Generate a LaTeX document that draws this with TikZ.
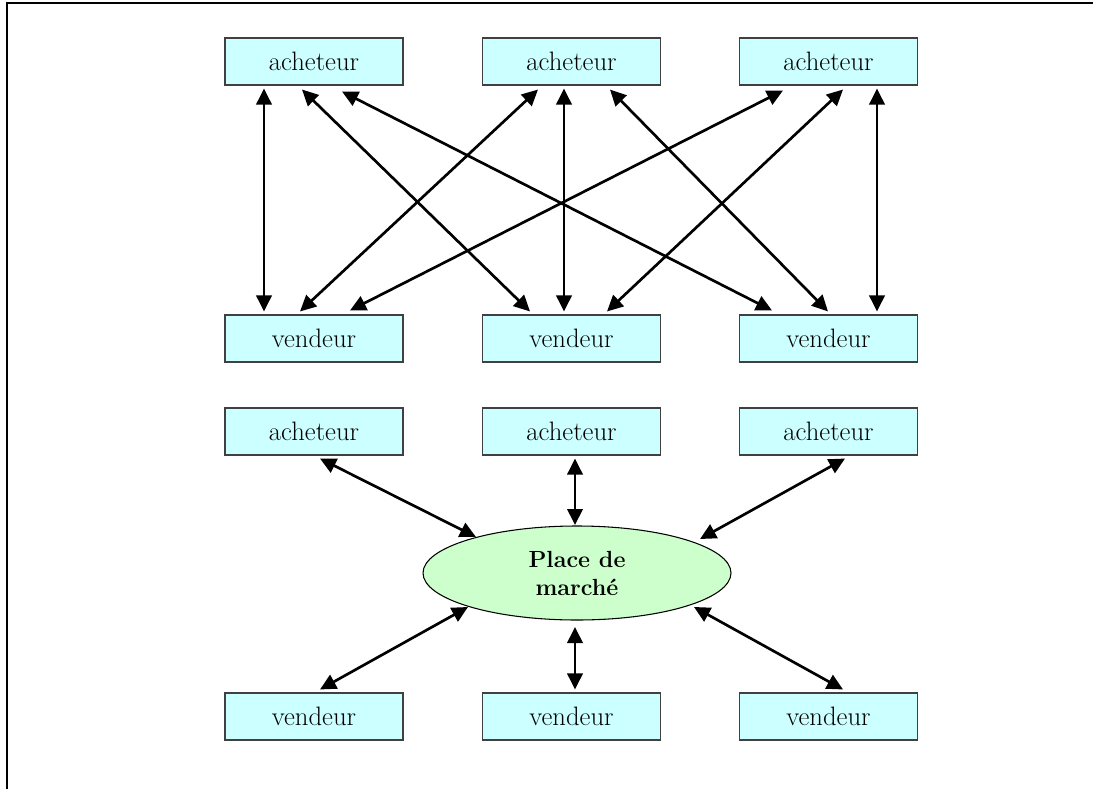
\documentclass[tikz,border=0pt]{standalone}
\usetikzlibrary{arrows.meta,calc,shapes.geometric}
\definecolor{boxfill}{HTML}{CCFFFF}
\definecolor{ellfill}{HTML}{CCFFCC}
\definecolor{boxline}{HTML}{404040}
\begin{document}
\begin{tikzpicture}[x=0.75pt,y=-0.75pt,
  agent/.style={draw=boxline, line width=0.8pt, fill=boxfill, minimum width=133.5pt, minimum height=35.25pt, inner sep=0pt, font=\fontsize{20}{22}\selectfont},
  market/.style={ellipse, draw=black, line width=0.8pt, fill=ellfill, minimum width=231pt, minimum height=70.5pt, inner sep=0pt, align=center, font=\fontsize{17.5}{21}\selectfont\bfseries},
  link/.style={line width=2pt, {Triangle[length=12pt,width=11.5pt]}-{Triangle[length=12pt,width=11.5pt]}},
  frame/.style={line width=1.6pt}]
\useasboundingbox (0,0) rectangle (1093,789);
\draw[frame] (7,789) -- (7,3) -- (1093,3);

% top section
\node[agent] (a1) at (314,61.5) {acheteur};
\node[agent] (a2) at (571.5,61.5) {acheteur};
\node[agent] (a3) at (828.5,61.5) {acheteur};
\node[agent] (v1) at (314,338.5) {vendeur};
\node[agent] (v2) at (571.5,338.5) {vendeur};
\node[agent] (v3) at (828.5,338.5) {vendeur};

\draw[link] ($(a1.south)+(-50,3)$) -- ($(v1.north)+(-50,-3)$);
\draw[link] ($(a1.south)+(-12,4)$) -- ($(v2.north)+(-41.5,-3)$);
\draw[link] ($(a1.south)+(28,6)$) -- ($(v3.north)+(-56.5,-4)$);
\draw[link] ($(a2.south)+(-33.5,4)$) -- ($(v1.north)+(-14,-3)$);
\draw[link] ($(a2.south)+(-7.5,3)$) -- ($(v2.north)+(-7.5,-3)$);
\draw[link] ($(a2.south)+(38.5,4)$) -- ($(v3.north)+(-0.5,-3)$);
\draw[link] ($(a3.south)+(-45.5,5)$) -- ($(v1.north)+(36,-4)$);
\draw[link] ($(a3.south)+(14.5,4)$) -- ($(v2.north)+(35.5,-3)$);
\draw[link] ($(a3.south)+(48.5,3)$) -- ($(v3.north)+(48.5,-3)$);

% bottom section
\node[agent] (b1) at (314,431.5) {acheteur};
\node[agent] (b2) at (571.5,431.5) {acheteur};
\node[agent] (b3) at (828.5,431.5) {acheteur};
\node[market] (m) at (577,573) {Place de\\march\'e};
\node[agent] (s1) at (314,716.5) {vendeur};
\node[agent] (s2) at (571.5,716.5) {vendeur};
\node[agent] (s3) at (828.5,716.5) {vendeur};

\draw[link] ($(b1.south)+(6,3)$) -- ($(m.center)+(-101,-36)$);
\draw[link] ($(b2.south)+(3.5,3)$) -- ($(m.center)+(-2,-48)$);
\draw[link] ($(b3.south)+(16.5,3)$) -- ($(m.center)+(123,-34)$);
\draw[link] ($(s1.north)+(6,-3)$) -- ($(m.center)+(-109,34)$);
\draw[link] ($(s2.north)+(3.5,-3)$) -- ($(m.center)+(-2,54)$);
\draw[link] ($(s3.north)+(14.5,-3)$) -- ($(m.center)+(117,34)$);
\end{tikzpicture}
\end{document}
